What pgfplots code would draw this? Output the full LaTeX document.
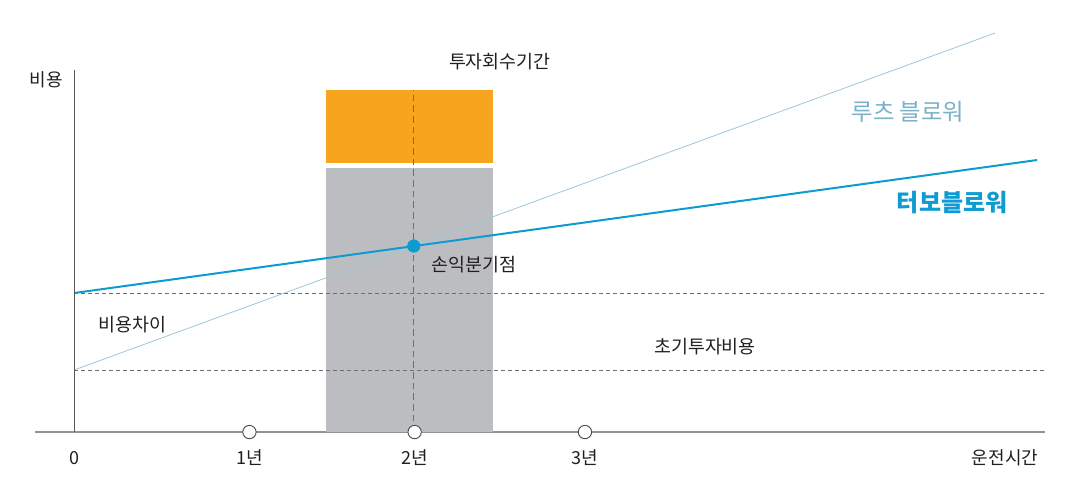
\documentclass[border=0pt]{standalone}
\usepackage{pgfplots}
\pgfplotsset{compat=1.18}
\usepackage{fontspec}
\setmainfont{Noto Sans CJK KR}

\definecolor{turbo}{HTML}{0E9BD2}
\definecolor{roots}{HTML}{9CC8DA}
\definecolor{rootstxt}{HTML}{7AB0C8}
\definecolor{barorange}{HTML}{F7A51E}
\definecolor{bargray}{HTML}{BCBDC0}
\definecolor{ink}{HTML}{231F20}
\definecolor{dashc}{HTML}{6D6E71}

\begin{document}
\begin{tikzpicture}
\begin{axis}[
    scale only axis, width=757.5pt, height=271.5pt,
    xmin=-0.229, xmax=5.702, ymin=0, ymax=362,
    axis x line*=bottom, axis y line=none,
    x axis line style={draw=gray!85, line width=1pt},
    xtick={0,1.03,2,3,5.467},
    xticklabels={0,1년,2년,3년,운전시간},
    major tick length=0pt,
    xticklabel style={anchor=base, yshift=-24pt, font=\fontsize{13.5}{15}\selectfont, text=ink},
    ytick=\empty,
    clip=false,
]
% payback period bars
\addplot[fill=bargray, draw=none] coordinates {(1.48,0)(2.46,0)(2.46,264)(1.48,264)} -- cycle;
\addplot[fill=barorange, draw=none] coordinates {(1.48,269)(2.46,269)(2.46,342)(1.48,342)} -- cycle;

% reference lines
\addplot[dashc, line width=0.7pt, dash pattern=on 3pt off 2.25pt] coordinates {(0,139)(5.702,139)};
\addplot[dashc, line width=0.7pt, dash pattern=on 3pt off 2.25pt] coordinates {(0,62)(5.702,62)};
\addplot[dashc, line width=0.7pt, dash pattern=on 5pt off 3pt] coordinates {(1.995,0)(1.995,342)};

% cost lines
\addplot[roots, line width=0.6pt] coordinates {(0,62)(5.408,399)};
\addplot[turbo, line width=1.5pt] coordinates {(0,139)(5.655,272)};
\addplot[turbo, only marks, mark=*, mark size=4.7pt, mark options={fill=turbo, draw=turbo}] coordinates {(1.995,186)};
\addplot[ink!80, only marks, mark=*, mark size=5pt, mark options={fill=white, draw=ink!80, line width=0.7pt}] coordinates {(1.03,0)(2,0)(3,0)};

\draw[ink!75, line width=0.7pt] (axis cs:0,0) -- (axis cs:0,362);

\node[font=\fontsize{13.5}{15}\selectfont, text=ink] at (axis cs:-0.164,352) {비용};
\node[font=\fontsize{13.8}{15}\selectfont, text=ink] at (axis cs:2.50,370) {투자회수기간};
\node[font=\fontsize{17.5}{20}\selectfont, text=rootstxt] at (axis cs:4.897,320) {루츠 블로워};
\node[font=\fontsize{18}{20}\selectfont\bfseries, text=turbo] at (axis cs:5.156,229) {터보블로워};
\node[font=\fontsize{13.8}{15}\selectfont, text=ink] at (axis cs:2.349,167) {손익분기점};
\node[font=\fontsize{13.8}{15}\selectfont, text=ink] at (axis cs:0.341,107) {비용차이};
\node[font=\fontsize{13.8}{15}\selectfont, text=ink] at (axis cs:3.705,85) {초기투자비용};

\coordinate (bl) at (axis cs:-0.4345,-60);
\coordinate (tr) at (axis cs:5.848,432);
\end{axis}
\pgfresetboundingbox
\useasboundingbox (bl) rectangle (tr);
\end{tikzpicture}
\end{document}
